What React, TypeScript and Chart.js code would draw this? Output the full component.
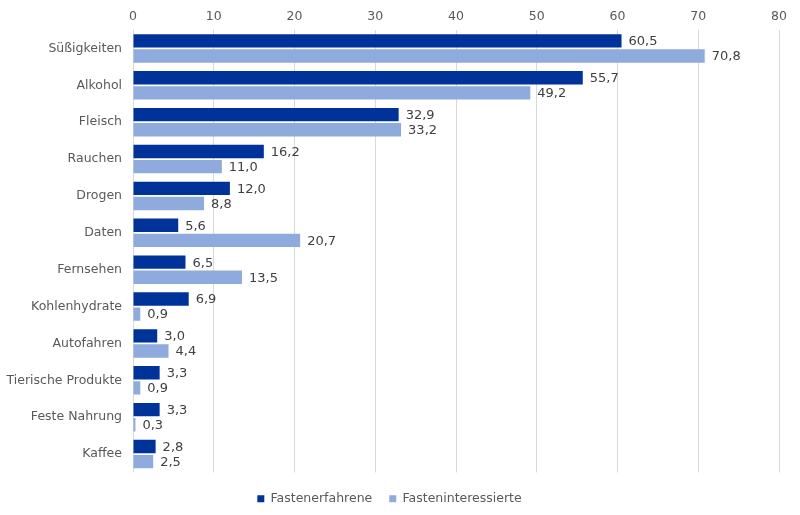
import React, { useEffect, useRef } from "react";
import { Chart, registerables } from "chart.js";

Chart.register(...registerables);

const categories = [
  "Süßigkeiten",
  "Alkohol",
  "Fleisch",
  "Rauchen",
  "Drogen",
  "Daten",
  "Fernsehen",
  "Kohlenhydrate",
  "Autofahren",
  "Tierische Produkte",
  "Feste Nahrung",
  "Kaffee",
];
const seriesNames = ["Fastenerfahrene", "Fasteninteressierte"];
const erfahrene = [60.5, 55.7, 32.9, 16.2, 12.0, 5.6, 6.5, 6.9, 3.0, 3.3, 3.3, 2.8];
const interessierte = [70.8, 49.2, 33.2, 11.0, 8.8, 20.7, 13.5, 0.9, 4.4, 0.9, 0.3, 2.5];
const xTicks = [0, 10, 20, 30, 40, 50, 60, 70, 80];

const FONT = "'DejaVu Sans', Verdana, sans-serif";

const valueLabels = {
  id: "valueLabels",
  afterDatasetsDraw(chart: any) {
    const ctx = chart.ctx;
    ctx.save();
    ctx.font = `13px ${FONT}`;
    ctx.fillStyle = "#404040";
    ctx.textAlign = "left";
    ctx.textBaseline = "middle";
    chart.data.datasets.forEach((ds: any, di: number) => {
      const meta = chart.getDatasetMeta(di);
      meta.data.forEach((bar: any, i: number) => {
        const v = ds.data[i] as number;
        const txt = v.toFixed(1).replace(".", ",");
        ctx.fillText(txt, bar.x + 7, bar.y + 1);
      });
    });
    ctx.restore();
  },
};

export default function App() {
  const ref = useRef<HTMLCanvasElement | null>(null);
  useEffect(() => {
    document.body.style.margin = "0";
    if (!ref.current) return;
    const chart = new Chart(ref.current, {
      type: "bar",
      data: {
        labels: categories,
        datasets: [
          {
            label: seriesNames[0],
            data: erfahrene,
            backgroundColor: "#003399",
            barPercentage: 0.88,
            categoryPercentage: 0.82,
          },
          {
            label: seriesNames[1],
            data: interessierte,
            backgroundColor: "#8faadc",
            barPercentage: 0.88,
            categoryPercentage: 0.82,
          },
        ],
      },
      options: {
        indexAxis: "y",
        animation: false,
        responsive: false,
        maintainAspectRatio: false,
        layout: { padding: { left: 0, right: 21, top: 0, bottom: 0 } },
        scales: {
          x: {
            position: "top",
            min: 0,
            max: 80,
            afterBuildTicks: (scale: any) => {
              scale.ticks = xTicks.map((v) => ({ value: v }));
            },
            afterFit: (scale: any) => {
              scale.height = 30;
            },
            ticks: {
              color: "#595959",
              font: { family: FONT, size: 12.5 },
              padding: 6,
            },
            grid: { color: "#d9d9d9", drawTicks: false, lineWidth: 1 },
            border: { display: false },
          },
          xBottom: {
            type: "linear",
            axis: "x",
            position: "bottom",
            min: 0,
            max: 80,
            afterFit: (scale: any) => {
              scale.height = 3;
            },
            ticks: { display: false },
            grid: { display: false },
            border: { display: false },
          },
          y: {
            afterFit: (scale: any) => {
              scale.width = 133;
            },
            ticks: {
              color: "#595959",
              font: { family: FONT, size: 12.5 },
              padding: 3,
            },
            grid: { display: false },
            border: { display: false },
          },
        },
        plugins: {
          legend: {
            position: "bottom",
            labels: {
              color: "#595959",
              font: { family: FONT, size: 12.5 },
              usePointStyle: true,
              pointStyle: "rect",
              boxWidth: 7,
              boxHeight: 7,
              padding: 17,
            },
          },
          tooltip: { enabled: false },
        },
      },
      plugins: [valueLabels],
    });
    return () => chart.destroy();
  }, []);
  return (
    <div style={{ width: 800, height: 515 }}>
      <canvas ref={ref} width={800} height={515} style={{ display: "block" }} />
    </div>
  );
}
